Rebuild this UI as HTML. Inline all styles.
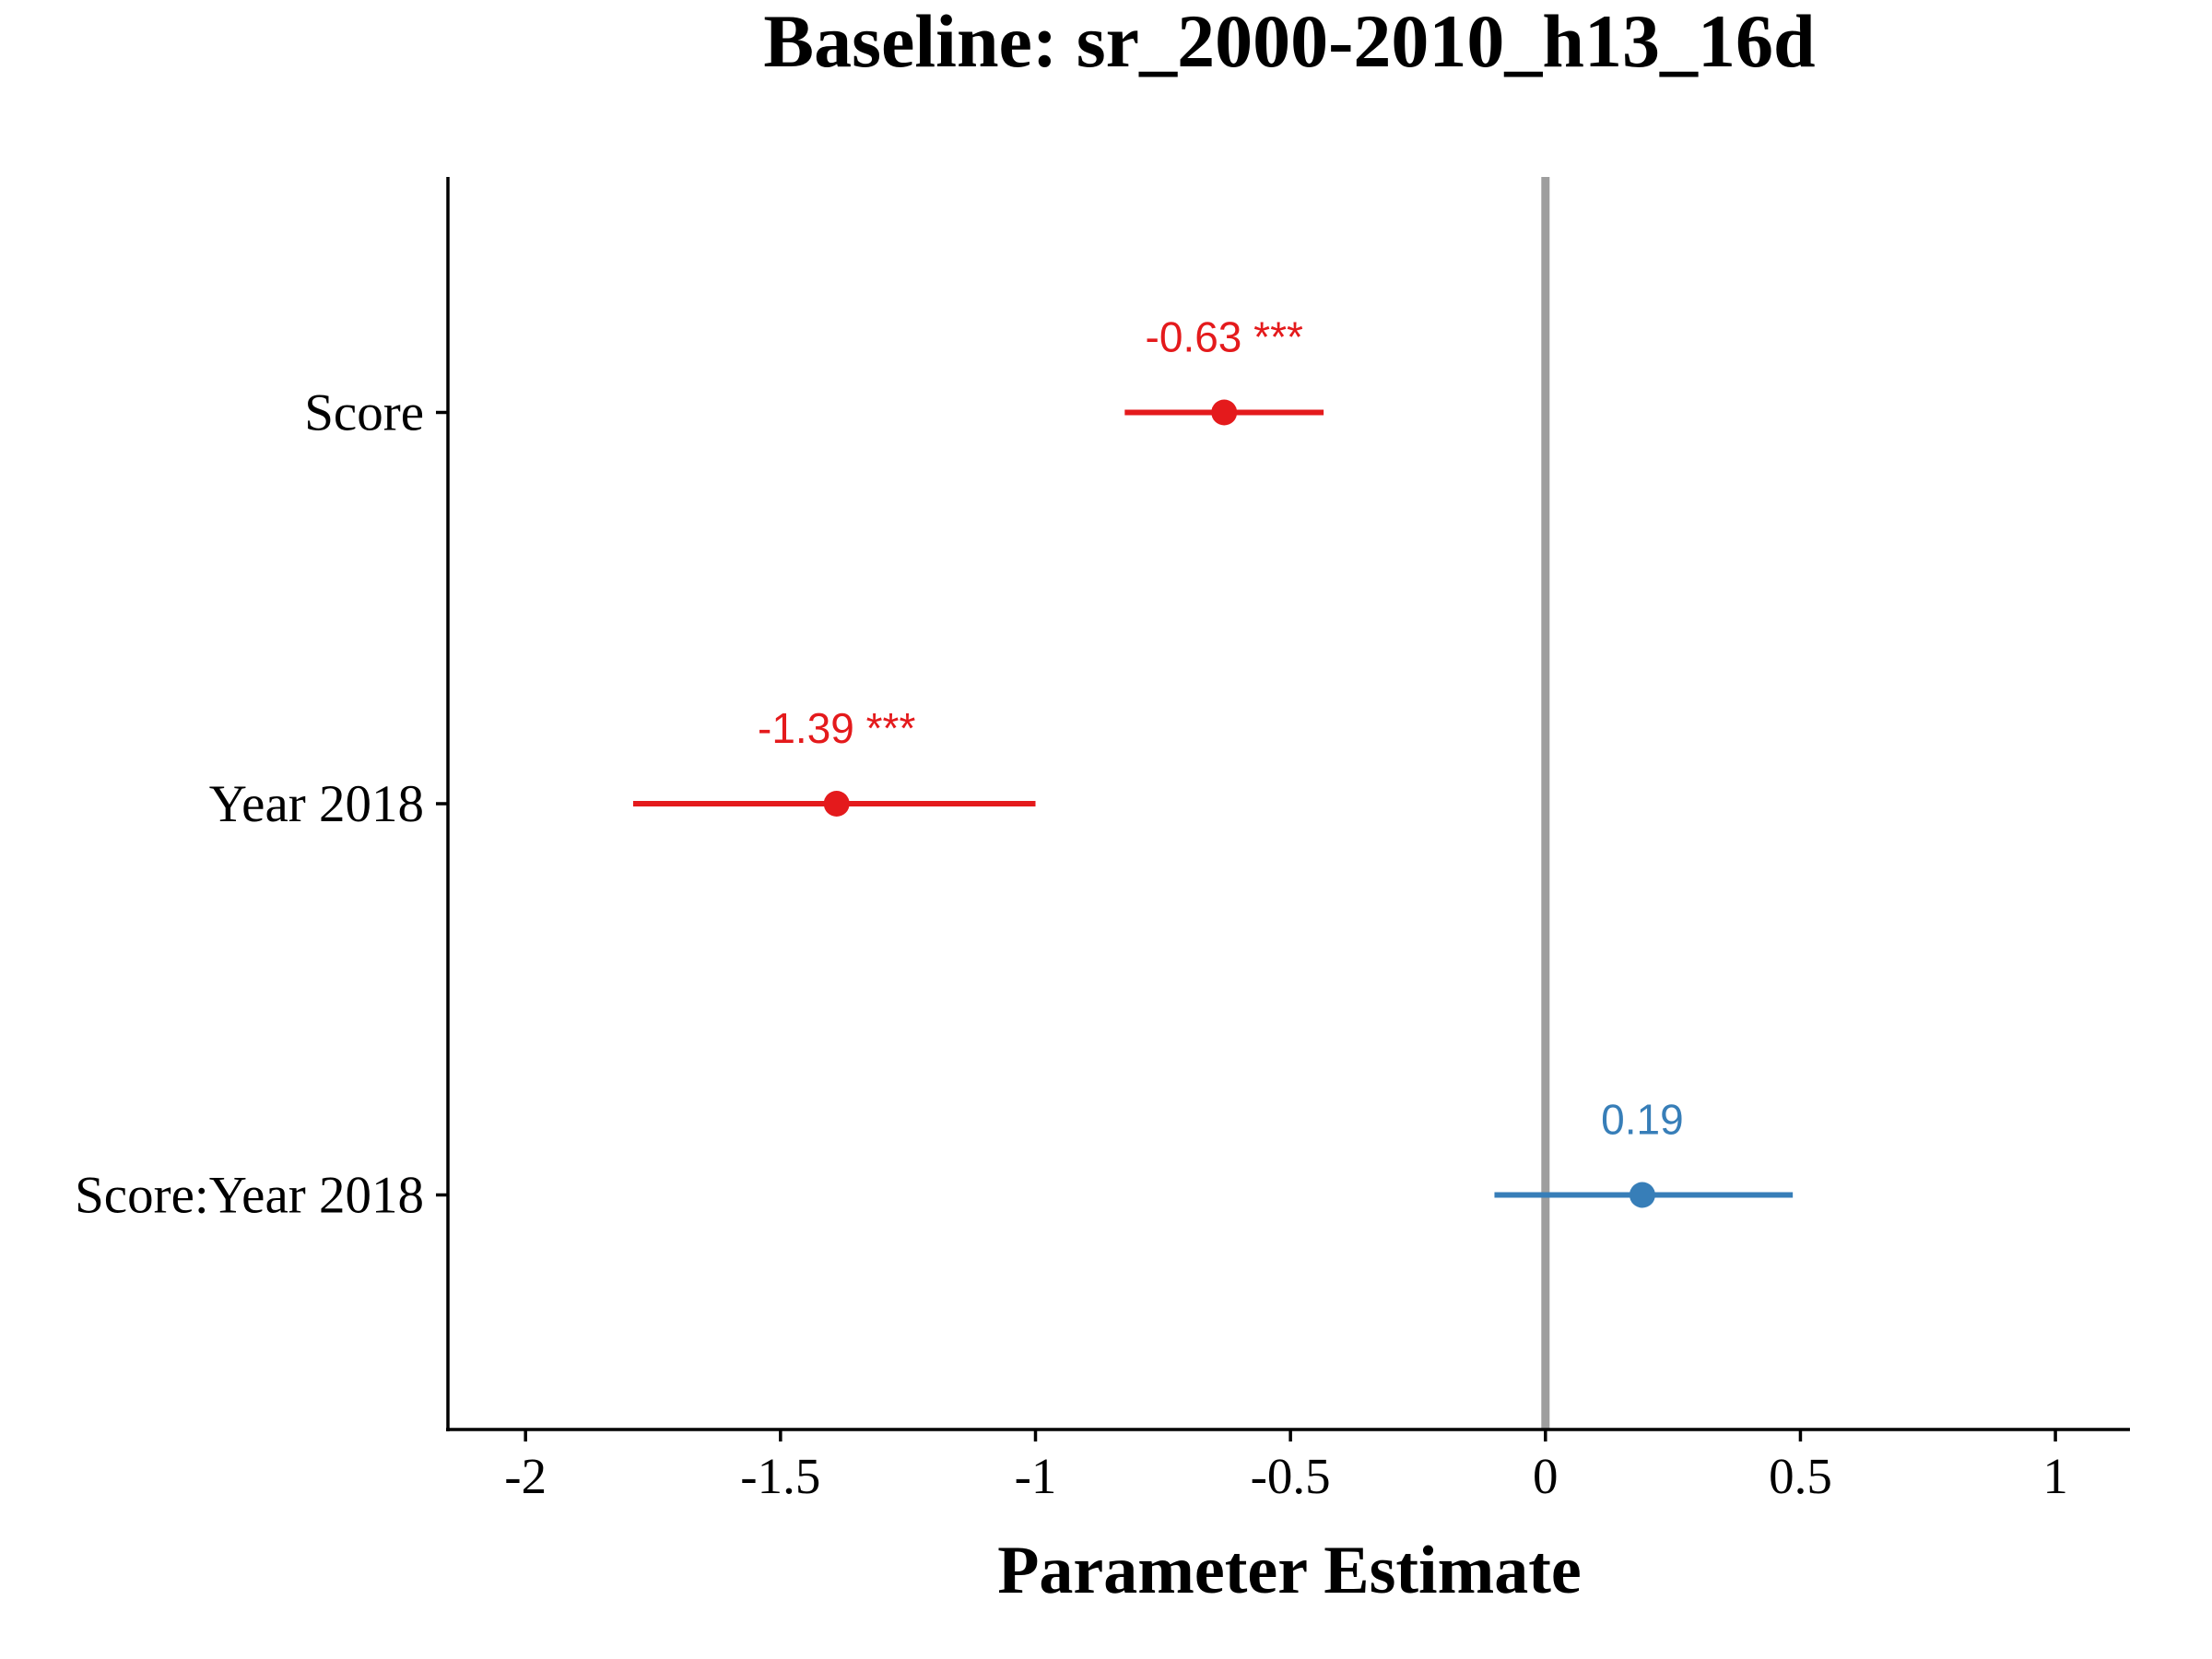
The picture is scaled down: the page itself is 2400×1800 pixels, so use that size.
<!DOCTYPE html>
<html><head><meta charset="utf-8"><style>
html,body{margin:0;padding:0;background:#fff;}
svg{display:block;}
</style></head><body>
<svg id="chart" width="2400" height="1800" viewBox="0 0 2400 1800" xmlns="http://www.w3.org/2000/svg">
<text x="1399" y="72" text-anchor="middle" font-family="Liberation Serif, serif" font-weight="bold" font-size="82">Baseline: sr_2000-2010_h13_16d</text>
<g id="plot"></g>
<text x="1399" y="1728" text-anchor="middle" font-family="Liberation Serif, serif" font-weight="bold" font-size="74">Parameter Estimate</text>
</svg>
<script>
const terms = ["Score", "Year 2018", "Score:Year 2018"];
const estimates = [-0.63, -1.39, 0.19];
const ciLow = [-0.825, -1.789, -0.10];
const ciHigh = [-0.435, -1.0, 0.485];
const labels = ["-0.63 ***", "-1.39 ***", "0.19"];
const significant = [true, true, false];
const xTicks = [-2, -1.5, -1, -0.5, 0, 0.5, 1];
const xTickLabels = ["-2", "-1.5", "-1", "-0.5", "0", "0.5", "1"];

const NS = "http://www.w3.org/2000/svg";
const L = 486, R = 2311, T = 192, B = 1551;
const x = v => 1676.8 + v * 553.3;
const rowY = [447.5, 872, 1296.5];
const y = i => rowY[0] + i * (rowY[1] - rowY[0]);
const g = document.getElementById('plot');
function mk(tag, attrs){const e=document.createElementNS(NS,tag);for(const k in attrs)e.setAttribute(k,attrs[k]);g.appendChild(e);return e;}

let e = mk('line',{x1:x(0),x2:x(0),y1:T,y2:B,stroke:'#9e9e9e','stroke-width':9});


e = mk('line',{x1:L,x2:L,y1:T,y2:B+2,stroke:'#000','stroke-width':3.5});


e = mk('line',{x1:L-2,x2:R,y1:B,y2:B,stroke:'#000','stroke-width':3.5});



xTicks.forEach((t,i)=>{
  let tk = mk('line',{x1:x(t),x2:x(t),y1:B,y2:B+13,stroke:'#000','stroke-width':3.5});
  
  
  let tl = mk('text',{x:x(t),y:1620,'text-anchor':'middle','font-family':'Liberation Serif, serif','font-size':55});
  tl.textContent = xTickLabels[i];
  
  
});

terms.forEach((term,i)=>{
  const yy = y(i);
  const col = significant[i] ? '#e41a1c' : '#377eb8';
  let tk = mk('line',{x1:L-13,x2:L,y1:yy,y2:yy,stroke:'#000','stroke-width':3.5});
  
  
  let tl = mk('text',{x:L-26,y:yy+19,'text-anchor':'end','font-family':'Liberation Serif, serif','font-size':57});
  tl.textContent = term;
  
  
  let ci = mk('line',{x1:x(ciLow[i]),x2:x(ciHigh[i]),y1:yy,y2:yy,stroke:col,'stroke-width':6});
  
  
  let pt = mk('circle',{cx:x(estimates[i]),cy:yy,r:14,fill:col});
  
  
  let lb = mk('text',{x:x(estimates[i]),y:yy-66,'text-anchor':'middle','font-family':'Liberation Sans, sans-serif','font-size':46,fill:col});
  lb.textContent = labels[i];
  
  
});
</script>
</body></html>
